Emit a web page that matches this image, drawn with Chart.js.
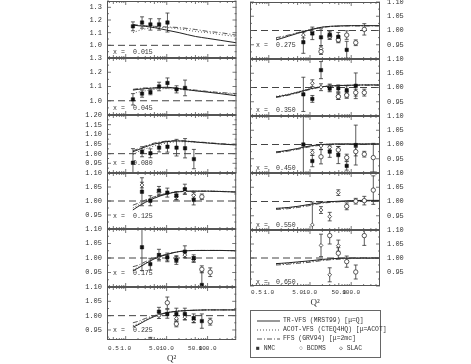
<!DOCTYPE html>
<html>
<head>
<meta charset="utf-8">
<script src="https://cdn.jsdelivr.net/npm/chart.js@4.4.1/dist/chart.umd.min.js"></script>
<style>
  body { margin: 0; background: #fff; }
  #fig { position: relative; width: 471px; height: 364px; overflow: hidden; }
  #fig canvas { position: absolute; }
  .legend { position: absolute; left: 250px; top: 310px; width: 129px; height: 46px; border: 1px solid #666;
    font: 6.4px "Liberation Mono", monospace; color: #333; will-change: transform; }
  .legend .row { position: absolute; height: 8px; line-height: 8px; white-space: nowrap; }
  .legend svg { position: absolute; left: 6px; top: 2px; }
  .legend .txt { position: absolute; left: 32px; }
</style>
</head>
<body>
<div id="fig">
  <div class="legend">
    <div class="row" style="top:6px;left:0"><svg width="23" height="4"><line x1="0" y1="2" x2="23" y2="2" stroke="#333" stroke-width="1"/></svg><span class="txt">TR-VFS (MRST99) [μ=Q]</span></div>
    <div class="row" style="top:15px;left:0"><svg width="23" height="4"><line x1="0" y1="2" x2="23" y2="2" stroke="#555" stroke-width="1" stroke-dasharray="1,2"/></svg><span class="txt">ACOT-VFS (CTEQ4HQ) [μ=ACOT]</span></div>
    <div class="row" style="top:24px;left:0"><svg width="23" height="4"><line x1="0" y1="2" x2="23" y2="2" stroke="#555" stroke-width="1" stroke-dasharray="5,2,1,2"/></svg><span class="txt">FFS (GRV94) [μ=2mc]</span></div>
    <div class="row" style="top:34px;left:5px">■ NMC</div>
    <div class="row" style="top:34px;left:48px">○ BCDMS</div>
    <div class="row" style="top:34px;left:88px">◇ SLAC</div>
  </div>
</div>
<script>
// x bins, one panel each
const xBins = ['0.015','0.045','0.080','0.125','0.175','0.225','0.275','0.350','0.450','0.550','0.650'];

// axis ranges and tick labels
const qMin = 0.35, qMax = 500;
const qTicks = [0.5, 1, 5, 10, 50, 100];
const yMin = [0.9, 0.9, 0.9, 0.9, 0.9, 0.915, 0.9, 0.9, 0.9, 0.9, 0.9];
const yMax = [1.35, 1.3, 1.2, 1.1, 1.1, 1.1, 1.1, 1.1, 1.1, 1.1, 1.1];
const yTicks = [
  [1.0, 1.1, 1.2, 1.3],
  [1.0, 1.1, 1.2, 1.3],
  [0.95, 1.0, 1.05, 1.1, 1.15, 1.2],
  [0.95, 1.0, 1.05, 1.1], [0.95, 1.0, 1.05, 1.1], [0.95, 1.0, 1.05, 1.1],
  [0.95, 1.0, 1.05, 1.1], [0.95, 1.0, 1.05, 1.1], [0.95, 1.0, 1.05, 1.1],
  [0.95, 1.0, 1.05, 1.1], [0.95, 1.0, 1.05, 1.1]
];
const tickDigits = [1, 1, 2, 2, 2, 2, 2, 2, 2, 2, 2];
const unity = 1.0;

// theory curves
const curveQ2 = [1.5, 2, 3, 5, 10, 20, 50, 100, 200, 500];
const trVfs = [
  [1.16, 1.155, 1.15, 1.14, 1.12, 1.10, 1.07, 1.055, 1.04, 1.02],
  [1.075, 1.08, 1.085, 1.09, 1.095, 1.085, 1.07, 1.06, 1.05, 1.035],
  [1.01, 1.02, 1.035, 1.05, 1.062, 1.066, 1.06, 1.055, 1.05, 1.045],
  [0.968, 0.98, 0.995, 1.01, 1.025, 1.033, 1.035, 1.035, 1.034, 1.032],
  [0.956, 0.965, 0.98, 0.997, 1.012, 1.022, 1.026, 1.026, 1.026, 1.025],
  [0.96, 0.968, 0.982, 0.997, 1.01, 1.016, 1.019, 1.02, 1.02, 1.02],
  [0.967, 0.972, 0.98, 0.99, 1.002, 1.012, 1.016, 1.017, 1.017, 1.017],
  [0.967, 0.97, 0.975, 0.983, 0.995, 1.003, 1.007, 1.008, 1.009, 1.009],
  [0.974, 0.976, 0.98, 0.986, 0.995, 1.0, 1.002, 1.002, 1.002, 1.002],
  [0.976, 0.977, 0.979, 0.983, 0.99, 0.997, 1.001, 1.003, 1.004, 1.004],
  [0.98, 0.981, 0.983, 0.986, 0.99, 0.995, 0.999, 1.0, 1.0, 1.0]
];
const acotVfs = [
  [1.10, 1.115, 1.13, 1.14, 1.14, 1.13, 1.11, 1.10, 1.085, 1.07],
  [1.05, 1.06, 1.07, 1.08, 1.085, 1.08, 1.07, 1.065, 1.055, 1.045],
  [0.995, 1.01, 1.025, 1.04, 1.055, 1.062, 1.06, 1.055, 1.05, 1.045],
  [0.975, 0.985, 1.0, 1.013, 1.027, 1.034, 1.036, 1.036, 1.035, 1.033],
  [0.96, 0.968, 0.982, 0.998, 1.013, 1.022, 1.026, 1.026, 1.026, 1.025],
  [0.965, 0.972, 0.985, 0.999, 1.011, 1.017, 1.019, 1.02, 1.02, 1.02],
  [0.972, 0.976, 0.983, 0.992, 1.003, 1.012, 1.016, 1.017, 1.017, 1.017],
  [0.969, 0.972, 0.977, 0.985, 0.996, 1.003, 1.007, 1.008, 1.009, 1.009],
  [0.973, 0.975, 0.979, 0.985, 0.994, 1.0, 1.002, 1.002, 1.002, 1.002],
  [0.975, 0.976, 0.978, 0.982, 0.989, 0.996, 1.0, 1.002, 1.003, 1.003],
  [0.978, 0.979, 0.981, 0.984, 0.988, 0.993, 0.998, 0.999, 1.0, 1.0]
];
const ffsFix = [
  [1.165, 1.16, 1.155, 1.15, 1.145, 1.14, 1.125, 1.11, 1.10, 1.08],
  [1.08, 1.085, 1.09, 1.09, 1.09, 1.085, 1.075, 1.065, 1.058, 1.05],
  [1.015, 1.025, 1.04, 1.055, 1.065, 1.068, 1.062, 1.057, 1.052, 1.047],
  [0.985, 0.992, 1.003, 1.015, 1.027, 1.033, 1.035, 1.035, 1.034, 1.032],
  [0.97, 0.975, 0.987, 1.0, 1.013, 1.022, 1.026, 1.026, 1.026, 1.025],
  [0.975, 0.98, 0.99, 1.0, 1.01, 1.016, 1.019, 1.02, 1.02, 1.02],
  [0.975, 0.978, 0.984, 0.992, 1.002, 1.011, 1.015, 1.016, 1.016, 1.016],
  [0.965, 0.968, 0.973, 0.981, 0.993, 1.002, 1.006, 1.008, 1.008, 1.008],
  [0.971, 0.973, 0.977, 0.983, 0.992, 0.998, 1.001, 1.001, 1.001, 1.001],
  [0.972, 0.973, 0.975, 0.979, 0.986, 0.994, 0.999, 1.001, 1.002, 1.002],
  [0.975, 0.976, 0.978, 0.981, 0.985, 0.991, 0.996, 0.998, 0.999, 0.999]
];

// NMC
const nmcQ2 = [
  [1.5, 2.5, 4.0, 6.5, 10.4],
  [1.5, 2.5, 4.0, 6.5, 10.4, 17.3, 27.9],
  [1.5, 2.5, 4.0, 6.5, 10.4, 17.3, 27.9, 45.8],
  [2.5, 4.0, 6.5, 10.4, 17.3, 27.9, 45.8],
  [2.5, 4.0, 6.5, 10.4, 17.3, 27.9, 45.8, 72.5],
  [6.5, 10.4, 17.3, 27.9, 45.8, 72.5],
  [6.9, 11.4, 18.5, 30.1, 48.7, 77.8],
  [6.9, 11.4, 18.5, 30.1, 48.7, 77.8, 129],
  [6.9, 11.4, 30.1, 48.7, 77.8, 129],
  [], []
];
const nmcVal = [
  [1.15, 1.18, 1.165, 1.165, 1.18],
  [1.01, 1.05, 1.06, 1.10, 1.125, 1.08, 1.09],
  [0.953, 1.01, 1.002, 1.031, 1.036, 1.031, 1.028, 0.972],
  [1.033, 1.001, 1.037, 1.030, 1.019, 1.042, 1.004],
  [1.037, 0.979, 1.010, 1.002, 0.993, 1.022, 0.999, 0.907],
  [1.014, 1.006, 1.006, 1.006, 0.991, 0.981],
  [0.959, 0.990, 0.976, 0.984, 0.978, 0.932],
  [0.976, 0.960, 1.061, 0.997, 0.997, 0.991, 1.006],
  [1.0, 0.942, 0.975, 0.963, 0.925, 0.998],
  [], []
];
const nmcErr = [
  [0.035, 0.045, 0.045, 0.045, 0.075],
  [0.04, 0.025, 0.018, 0.03, 0.035, 0.025, 0.055],
  [0.073, 0.026, 0.023, 0.022, 0.028, 0.043, 0.05, 0.05],
  [0.05, 0.018, 0.015, 0.016, 0.015, 0.018, 0.018],
  [0.08, 0.02, 0.02, 0.015, 0.015, 0.02, 0.012, 0.045],
  [0.015, 0.015, 0.02, 0.02, 0.015, 0.025],
  [0.039, 0.022, 0.03, 0.015, 0.015, 0.03],
  [0.06, 0.012, 0.03, 0.012, 0.012, 0.015, 0.045],
  [0.1, 0.02, 0.02, 0.03, 0.015, 0.07],
  [], []
];

// BCDMS
const bcdmsQ2 = [
  [], [], [], [72.5], [72.5, 116], [10.4, 17.3, 116],
  [18.5, 30.1, 48.7, 77.8, 129, 208],
  [48.7, 77.8, 129, 208],
  [18.5, 48.7, 77.8, 129, 208, 344],
  [77.8, 129, 208, 344],
  [30.1, 48.7, 77.8, 129, 208]
];
const bcdmsVal = [
  [], [], [], [1.015], [0.961, 0.951], [1.045, 0.971, 0.979],
  [0.926, 0.98, 0.967, 0.984, 0.957, 1.004],
  [0.968, 0.973, 0.982, 0.982],
  [0.957, 0.981, 0.954, 0.975, 0.966, 0.954],
  [0.983, 1.001, 1.003, 1.04],
  [1.08, 1.017, 0.987, 0.95, 1.08]
];
const bcdmsErr = [
  [], [], [], [0.01], [0.012, 0.015], [0.02, 0.01, 0.012],
  [0.01, 0.01, 0.01, 0.015, 0.01, 0.02],
  [0.01, 0.01, 0.012, 0.012],
  [0.025, 0.012, 0.012, 0.015, 0.01, 0.05],
  [0.012, 0.01, 0.015, 0.05],
  [0.03, 0.02, 0.02, 0.025, 0.035]
];

// SLAC
const slacQ2 = [
  [], [], [],
  [2.5, 6.5, 17.3, 27.9, 45.8],
  [6.5, 10.4, 17.3, 27.9, 45.8],
  [4.0, 6.5, 17.3, 27.9, 45.8],
  [6.9, 11.4, 18.5, 30.1, 48.7],
  [11.4, 18.5, 30.1, 48.7, 77.8],
  [11.4, 18.5, 30.1],
  [11.4, 18.5, 30.1, 48.7],
  [18.5, 30.1, 48.7]
];
const slacVal = [
  [], [], [],
  [1.057, 1.03, 1.015, 1.035, 1.02],
  [1.005, 1.0, 0.995, 1.01, 0.995],
  [0.918, 1.0, 0.99, 0.995, 0.985],
  [0.984, 0.995, 0.937, 0.985, 0.97],
  [1.015, 1.001, 1.0, 0.97, 0.975],
  [0.972, 0.995, 0.99],
  [0.918, 0.97, 0.947, 1.031],
  [1.045, 0.94, 1.044]
];
const slacErr = [
  [], [], [],
  [0.01, 0.01, 0.01, 0.01, 0.01],
  [0.01, 0.01, 0.01, 0.01, 0.01],
  [0.006, 0.01, 0.01, 0.01, 0.01],
  [0.01, 0.01, 0.01, 0.01, 0.01],
  [0.012, 0.012, 0.012, 0.012, 0.012],
  [0.01, 0.012, 0.01],
  [0.08, 0.012, 0.015, 0.01],
  [0.04, 0.025, 0.02]
];

// panel layout
const col = [0, 0, 0, 0, 0, 0, 1, 1, 1, 1, 1];
const panelTop = [1, 58, 115, 173, 229, 287, 2, 59, 116, 173, 230];
const panelH = [57, 57, 58, 56, 58, 53, 57, 57, 57, 57, 56];
const labelAt = [0.947, 0.949, 0.952, 0.944, 0.948, 0.95, 0.949, 0.921, 0.918, 0.918, 0.915];

const ink = '#333';
const tickFont = { family: 'Liberation Mono', size: 7 };
const qFont = { family: 'Liberation Mono', size: 6 };

// log minor tick positions
const qMarks = [];
[0.1, 1, 10, 100].forEach(d => {
  for (let k = 1; k <= 9; k++) {
    const v = k * d;
    if (v > qMin && v < qMax) qMarks.push({ v, len: k === 1 ? 4 : (k === 5 ? 3 : 2) });
  }
});

const panelDeco = {
  id: 'panelDeco',
  beforeDatasetsDraw(chart) {
    const { ctx, chartArea: a, scales: { x, y } } = chart;
    ctx.save();
    ctx.beginPath();
    ctx.rect(a.left, a.top, a.right - a.left, a.bottom - a.top);
    ctx.clip();
    ctx.strokeStyle = ink;
    ctx.lineWidth = 0.8;
    chart.data.datasets.forEach(ds => {
      if (!ds.errors) return;
      ds.data.forEach((pt, i) => {
        const px = x.getPixelForValue(pt.x);
        const y1 = y.getPixelForValue(pt.y - ds.errors[i]);
        const y2 = y.getPixelForValue(pt.y + ds.errors[i]);
        ctx.beginPath();
        ctx.moveTo(px, y1); ctx.lineTo(px, y2);
        ctx.moveTo(px - 2, y1); ctx.lineTo(px + 2, y1);
        ctx.moveTo(px - 2, y2); ctx.lineTo(px + 2, y2);
        ctx.stroke();
      });
    });
    ctx.restore();
  },
  afterDraw(chart, args, opts) {
    const { ctx, chartArea: a, scales: { x, y } } = chart;
    ctx.save();
    ctx.strokeStyle = '#555';
    ctx.lineWidth = 1;
    ctx.strokeRect(a.left + 0.5, a.top + 0.5, a.right - a.left - 1, a.bottom - a.top - 1);
    ctx.lineWidth = 0.8;
    ctx.beginPath();
    qMarks.forEach(m => {
      const px = x.getPixelForValue(m.v);
      ctx.moveTo(px, a.bottom); ctx.lineTo(px, a.bottom - m.len);
      ctx.moveTo(px, a.top); ctx.lineTo(px, a.top + m.len);
    });
    const ts = opts.ticks;
    const step = ts[1] - ts[0];
    for (let v = ts[0] - step; v <= y.max + 1e-9; v += step / 2) {
      if (v < y.min - 1e-9) continue;
      const py = y.getPixelForValue(v);
      const major = Math.abs(((v - ts[0]) / step) - Math.round((v - ts[0]) / step)) < 1e-6;
      const len = major ? 4 : 2;
      ctx.moveTo(a.left, py); ctx.lineTo(a.left + len, py);
      ctx.moveTo(a.right, py); ctx.lineTo(a.right - len, py);
    }
    ctx.stroke();
    ctx.fillStyle = ink;
    ctx.font = '6.6px "Liberation Mono"';
    ctx.textBaseline = 'middle';
    const ly = y.getPixelForValue(opts.labelY);
    ctx.fillText('x =', a.left + 6, ly);
    ctx.fillText(opts.bin, a.left + 26, ly);
    ctx.restore();
  }
};

const pts = (qs, vs) => qs.map((q, i) => ({ x: q, y: vs[i] }));

const fig = document.getElementById('fig');
xBins.forEach((bin, p) => {
  const right = col[p] === 1;
  const bottom = p === 5 || p === 10;
  const axisW = right ? 30 : 32;
  const plotL = right ? 250 : 107;
  const padL = right ? 6 : 0, padR = right ? 0 : 4, pad = 12;
  const xAxisH = bottom ? (right ? 22 : 24) : 0;
  const c = document.createElement('canvas');
  c.width = padL + axisW + 130 + padR;
  c.height = pad + panelH[p] + (bottom ? xAxisH : pad);
  c.style.left = (right ? plotL - padL : plotL - axisW) + 'px';
  c.style.top = (panelTop[p] - pad) + 'px';
  fig.appendChild(c);

  const curve = (vals, dash, color) => ({
    type: 'line', data: pts(curveQ2, vals), showLine: true, borderColor: color, borderWidth: 1,
    borderDash: dash, pointRadius: 0, cubicInterpolationMode: 'monotone', order: 2
  });

  new Chart(c, {
    type: 'scatter',
    data: {
      datasets: [
        { data: pts(nmcQ2[p], nmcVal[p]), errors: nmcErr[p], pointStyle: 'rect', pointRadius: 2.4,
          backgroundColor: '#111', borderColor: '#111', borderWidth: 0.5, order: 0 },
        { data: pts(bcdmsQ2[p], bcdmsVal[p]), errors: bcdmsErr[p], pointStyle: 'circle', pointRadius: 2.2,
          backgroundColor: '#fff', borderColor: ink, borderWidth: 0.8, order: 0 },
        { data: pts(slacQ2[p], slacVal[p]), errors: slacErr[p], pointStyle: 'rectRot', pointRadius: 1.9,
          backgroundColor: '#fff', borderColor: ink, borderWidth: 0.8, order: 0 },
        curve(trVfs[p], [], '#222'),
        curve(acotVfs[p], [1, 2], '#555'),
        curve(ffsFix[p], [5, 2, 1, 2], '#555'),
        { type: 'line', data: [{ x: qMin, y: unity }, { x: qMax, y: unity }], showLine: true,
          borderColor: '#444', borderWidth: 1, borderDash: [7, 4], pointRadius: 0, order: 3 }
      ]
    },
    options: {
      responsive: false, animation: false, events: [], devicePixelRatio: 1,
      layout: { padding: { left: padL, right: padR, top: pad, bottom: bottom ? 0 : pad } },
      plugins: {
        legend: { display: false }, tooltip: { enabled: false },
        panelDeco: { bin, labelY: labelAt[p], ticks: yTicks[p] }
      },
      scales: {
        x: {
          type: 'logarithmic', min: qMin, max: qMax, display: bottom,
          afterBuildTicks: s => { s.ticks = qTicks.map(v => ({ value: v })); },
          afterFit: s => { s.height = xAxisH; },
          ticks: { callback: v => Number(v).toFixed(1), autoSkip: false, maxRotation: 0, minRotation: 0,
            padding: right ? 3 : 5, font: qFont, color: ink },
          grid: { display: false, drawTicks: false }, border: { display: false },
          title: { display: true, text: 'Q²', color: ink, font: { family: 'Liberation Serif', size: 9 },
            padding: { top: 0, bottom: 0 } }
        },
        y: {
          position: right ? 'right' : 'left', min: yMin[p], max: yMax[p],
          afterBuildTicks: s => { s.ticks = yTicks[p].map(v => ({ value: v })); },
          afterFit: s => { s.width = axisW; },
          ticks: { callback: v => Number(v).toFixed(tickDigits[p]), autoSkip: false,
            padding: right ? 7 : 5, font: tickFont, color: ink },
          grid: { display: false, drawTicks: false }, border: { display: false }
        }
      }
    },
    plugins: [panelDeco]
  });
});
</script>
</body>
</html>
